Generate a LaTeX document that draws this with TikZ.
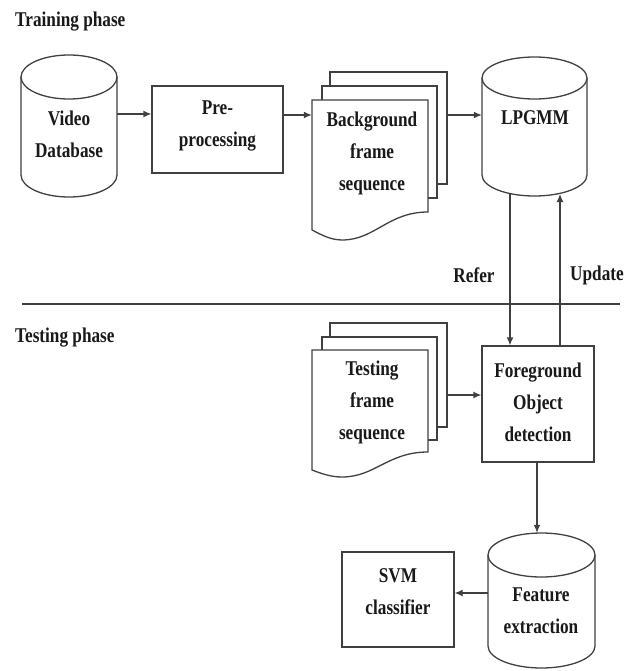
\documentclass[tikz,border=0pt]{standalone}
\usepackage{fontspec}
\setmainfont{Liberation Serif}[FakeStretch=0.82]
\usetikzlibrary{arrows.meta}
\tikzset{
  ln/.style={draw=black!75, line width=1.3pt},
  box/.style={ln, fill=white, inner sep=0pt},
  txt/.style={font=\fontsize{21}{32}\selectfont\bfseries, align=center, text=black!90, inner sep=0pt},
  arr/.style={ln, -{Latex[length=8pt,width=7pt]}},
  bnd/.style={inner sep=0pt, draw=none},
}
\newcommand\mycyl[6]{% name, x1, x2, ytop, ybottom, ry
  \pgfmathsetmacro\cx{(#2+#3)/2}%
  \pgfmathsetmacro\rx{(#3-#2)/2}%
  \pgfmathsetmacro\ya{#4+#6}%
  \pgfmathsetmacro\yb{#5-#6}%
  \draw[ln,fill=white] (#2,\ya) -- (#2,\yb) arc[start angle=180,end angle=360,x radius=\rx pt,y radius=#6 pt] -- (#3,\ya);
  \draw[ln,fill=white] (\cx,\ya) ellipse[x radius=\rx pt, y radius=#6 pt];
  \node[bnd, minimum width={#3-#2}, minimum height={#5-#4}] (#1) at (\cx,{(#4+#5)/2}) {};
}
\begin{document}
\begin{tikzpicture}[x=1pt,y=-1pt]
\useasboundingbox (0,0) rectangle (635,671);

% phase labels and separator
\node[txt, anchor=west] (train) at (15,22) {Training phase};
\node[txt, anchor=west] (test) at (15,338) {Testing phase};
\coordinate (sepL) at (22,304);
\coordinate (sepR) at (620,304);
\draw[ln] (sepL) -- (sepR);

% Video database
\mycyl{vdb}{21}{117}{55}{197}{22}
\node[txt] (vdbt) at (69,134) {Video\\Database};

% Pre-processing
\node[box, minimum width=131, minimum height=87] (pre) at (217.5,129.5) {};
\node[txt] (pret) at (217.5,126) {Pre-\\processing};

% Background frame sequence
\draw[ln,fill=white] (330,72) rectangle (447,184);
\draw[ln,fill=white] (322,86) rectangle (437,198);
\draw[ln,fill=white] (312,100) -- (428,100) -- (428,212)
  .. controls (388,212) and (375,240) .. (342,240)
  .. controls (330,240) and (320,234) .. (312,230) -- cycle;
\node[bnd, minimum width=135, minimum height=168] (bg) at (379.5,156) {};
\node[txt] (bgt) at (372,153) {Background\\frame\\sequence};

% LPGMM
\mycyl{lp}{482}{587}{57}{196}{21}
\node[txt] (lpt) at (535,118) {LPGMM};

% Testing frame sequence
\draw[ln,fill=white] (330,323) rectangle (447,427);
\draw[ln,fill=white] (322,337) rectangle (437,440);
\draw[ln,fill=white] (312,350) -- (428,350) -- (428,452)
  .. controls (388,452) and (375,477) .. (342,477)
  .. controls (330,477) and (320,473) .. (312,470) -- cycle;
\node[bnd, minimum width=135, minimum height=154] (ts) at (379.5,400) {};
\node[txt] (tst) at (372,402) {Testing\\frame\\sequence};

% Foreground object detection
\node[box, minimum width=112, minimum height=116] (fg) at (538,404) {};
\node[txt] (fgt) at (538,402) {Foreground\\Object\\detection};

% Feature extraction
\mycyl{fe}{488}{595}{533}{668}{22}
\node[txt] (fet) at (541,611) {Feature\\extraction};

% SVM classifier
\node[box, minimum width=112, minimum height=95] (svm) at (398,599.5) {};
\node[txt] (svmt) at (398,592) {SVM\\classifier};

% labels
\node[txt] (refer) at (474,275) {Refer};
\node[txt] (update) at (597,275) {Update};

% connectors
\coordinate (y1) at (0,114);
\coordinate (y2) at (0,115);
\coordinate (y3) at (0,395);
\coordinate (y4) at (0,593);
\coordinate (rtop) at (510,194);
\coordinate (utop) at (560,194);
\coordinate (fx) at (537,0);
\draw[arr] (vdb.east |- y1) -- (pre.west |- y1);
\draw[arr] (pre.east |- y2) -- (bg.west |- y2);
\draw[arr] (bg.east |- y2) -- (lp.west |- y2);
\draw[arr] (rtop) -- (rtop |- fg.north);
\draw[arr] (utop |- fg.north) -- (utop);
\draw[arr] (ts.east |- y3) -- (fg.west |- y3);
\draw[arr] (fx |- fg.south) -- (fx |- fe.north);
\draw[arr] (fe.west |- y4) -- (svm.east |- y4);
\end{tikzpicture}
\end{document}
